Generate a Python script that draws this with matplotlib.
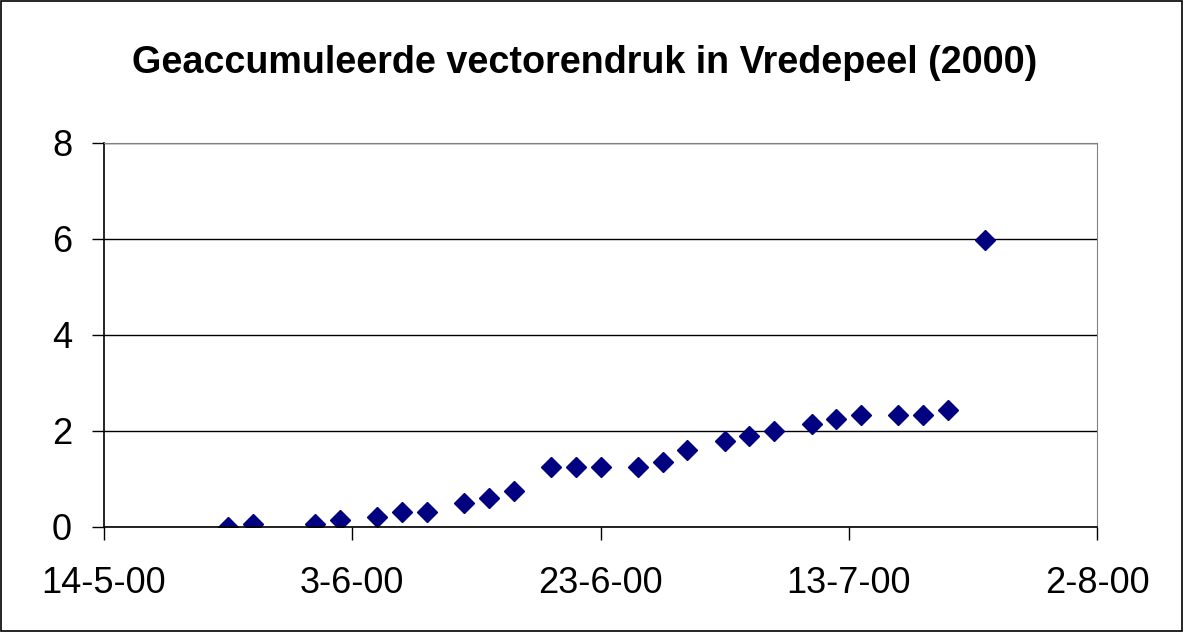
import numpy as np
import matplotlib
matplotlib.use("Agg")
import matplotlib.pyplot as plt
import matplotlib.dates as mdates
from datetime import date

plt.rcParams['font.family'] = ['Liberation Sans', 'DejaVu Sans']

# sampling dates (2000) and accumulated vector pressure
dates = ["2000-05-24", "2000-05-26", "2000-05-31", "2000-06-02", "2000-06-05",
         "2000-06-07", "2000-06-09", "2000-06-12", "2000-06-14", "2000-06-16",
         "2000-06-19", "2000-06-21", "2000-06-23", "2000-06-26", "2000-06-28",
         "2000-06-30", "2000-07-03", "2000-07-05", "2000-07-07", "2000-07-10",
         "2000-07-12", "2000-07-14", "2000-07-17", "2000-07-19", "2000-07-21",
         "2000-07-24"]
druk = [0.0, 0.07, 0.06, 0.15, 0.2, 0.31, 0.31, 0.5, 0.6, 0.75,
        1.25, 1.25, 1.25, 1.25, 1.36, 1.6, 1.8, 1.9, 2.0, 2.15,
        2.25, 2.34, 2.34, 2.34, 2.44, 5.97]

tick_dates = ["2000-05-14", "2000-06-03", "2000-06-23", "2000-07-13", "2000-08-02"]
tick_labels = ["14-5-00", "3-6-00", "23-6-00", "13-7-00", "2-8-00"]
y_ticks = [0, 2, 4, 6, 8]

x = [date.fromisoformat(d) for d in dates]
xt = [date.fromisoformat(d) for d in tick_dates]

fig = plt.figure(figsize=(11.84, 6.32), dpi=100)
ax = fig.add_axes([104 / 1184, 1 - 527 / 632, 993 / 1184, 384 / 632])

# outer chart border
fig.patches.append(plt.Rectangle((0.001, 0.001), 0.997, 0.997, transform=fig.transFigure,
                                 fill=False, edgecolor="black", linewidth=1.2))

ax.plot(x, druk, linestyle="none", marker="D", markersize=10.5,
        color="#000080", markeredgecolor="#000080")

ax.set_xlim(mdates.date2num(xt[0]), mdates.date2num(xt[-1]))
ax.set_ylim(0, 8)
ax.set_xticks(xt)
ax.set_xticklabels(tick_labels)
ax.set_yticks(y_ticks)
ax.yaxis.grid(True, color="black", linewidth=1)
ax.set_axisbelow(True)

for s in ["top", "right"]:
    ax.spines[s].set_color("#808080")
for s in ["left", "bottom"]:
    ax.spines[s].set_color("black")
    ax.spines[s].set_linewidth(1.2)

ax.tick_params(axis="both", direction="out", length=9, width=1, labelsize=26, colors="black")
ax.tick_params(axis="x", pad=19)
ax.tick_params(axis="y", pad=14)

fig.text(0.494, 1 - 72.7 / 632, "Geaccumuleerde vectorendruk in Vredepeel (2000)",
         ha="center", va="baseline", fontsize=27.2, fontweight="bold")

fig.savefig("out.png", dpi=100)
